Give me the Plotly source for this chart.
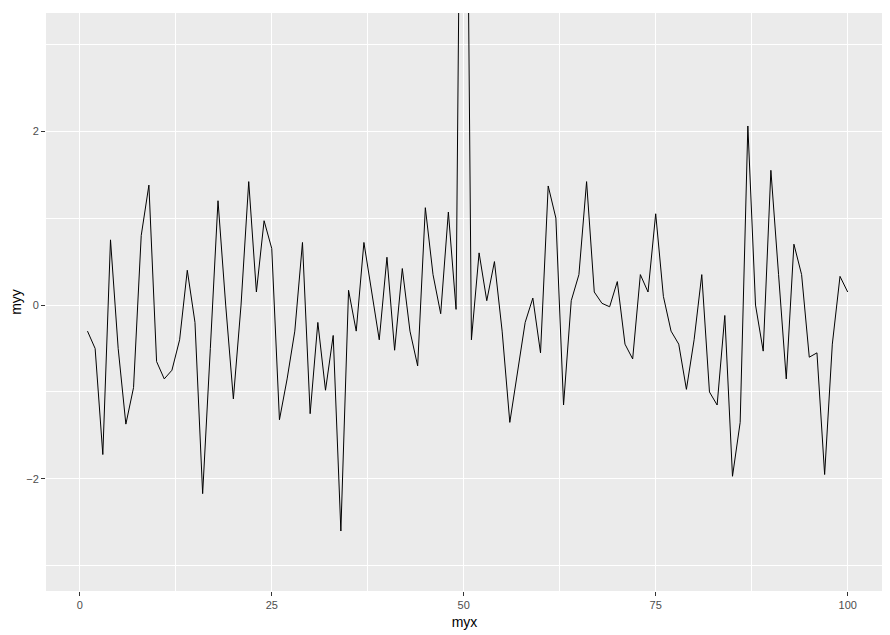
import plotly.graph_objects as go

myx = list(range(1, 101))
myy = [-0.3, -0.5, -1.72, 0.75, -0.5, -1.37, -0.95, 0.8, 1.38, -0.65,
       -0.85, -0.75, -0.4, 0.4, -0.2, -2.17, -0.5, 1.2, 0.0, -1.08,
       0.0, 1.42, 0.15, 0.97, 0.65, -1.32, -0.85, -0.3, 0.72, -1.25,
       -0.2, -0.98, -0.35, -2.6, 0.17, -0.3, 0.72, 0.15, -0.4, 0.55,
       -0.52, 0.42, -0.3, -0.7, 1.12, 0.35, -0.1, 1.07, -0.05, 10.0,
       -0.4, 0.6, 0.05, 0.5, -0.3, -1.35, -0.75, -0.2, 0.08, -0.55,
       1.37, 1.0, -1.15, 0.05, 0.35, 1.42, 0.15, 0.02, -0.02, 0.27,
       -0.45, -0.62, 0.35, 0.15, 1.05, 0.1, -0.3, -0.45, -0.97, -0.4,
       0.35, -1.0, -1.15, -0.12, -1.97, -1.35, 2.06, 0.0, -0.53, 1.55,
       0.35, -0.85, 0.7, 0.35, -0.6, -0.55, -1.95, -0.45, 0.33, 0.15]

fig = go.Figure(go.Scatter(x=myx, y=myy, mode="lines",
                           line=dict(color="black", width=1)))
ax = dict(showgrid=True, gridcolor="white", gridwidth=1.2, zeroline=False,
          ticks="outside", ticklen=4, tickcolor="#333333", automargin=False,
          tickfont=dict(family="Liberation Sans", size=11, color="#4d4d4d"),
          title_font=dict(family="Liberation Sans", size=14, color="black"),
          showline=False)
fig.update_layout(
    width=890, height=635, paper_bgcolor="white", plot_bgcolor="#ebebeb",
    margin=dict(l=38, r=15, t=5, b=52), showlegend=False,
    xaxis=dict(ax, range=[-4.4, 104.6], tickvals=[0, 25, 50, 75, 100],
               title=dict(text="myx", standoff=6),
               minor=dict(tickvals=[12.5, 37.5, 62.5, 87.5], showgrid=True,
                          gridcolor="white", gridwidth=0.6, ticks="")),
    yaxis=dict(ax, range=[-3.29, 3.36], tickvals=[-2, 0, 2],
               title=dict(text="myy", standoff=6),
               minor=dict(tickvals=[-3, -1, 1, 3], showgrid=True,
                          gridcolor="white", gridwidth=0.6, ticks="")),
)
fig.write_html("out.html")
